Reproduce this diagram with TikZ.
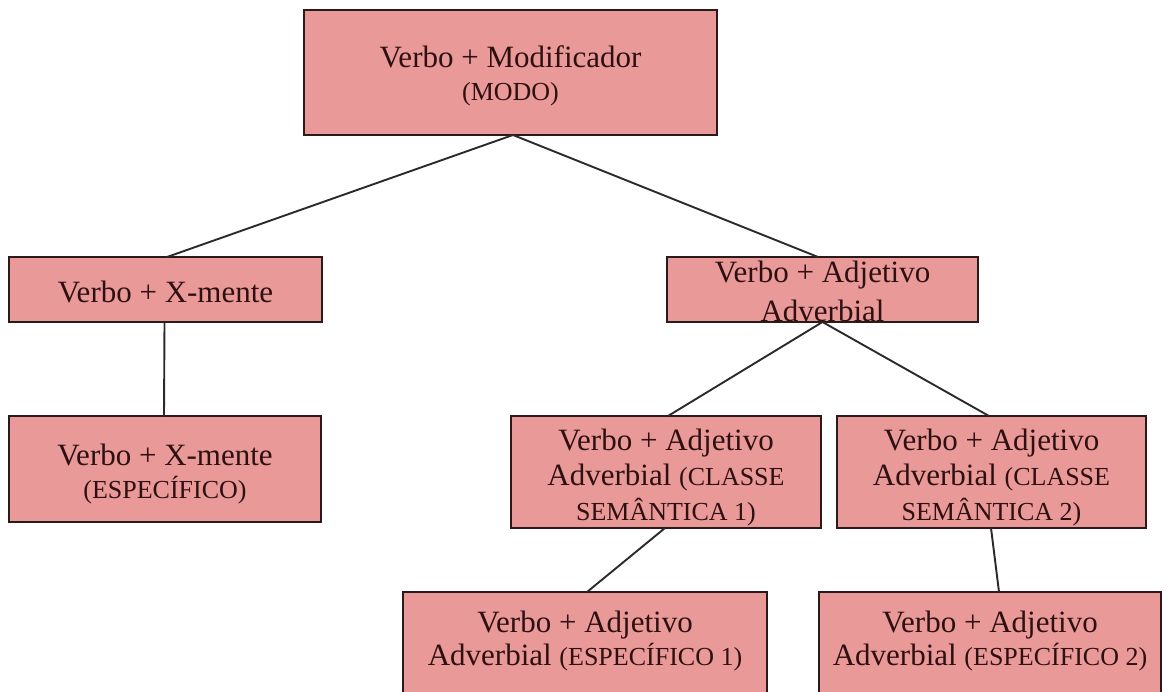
\documentclass[tikz,border=0pt]{standalone}
\usepackage{fontspec}
\setmainfont{Liberation Serif}
\definecolor{boxfill}{HTML}{EA9999}
\definecolor{boxline}{HTML}{2A1A1A}
\definecolor{ink}{HTML}{2E1010}
\definecolor{wirecol}{HTML}{2A2A2A}
\newcommand\minor[1]{{\fontsize{26}{34}\selectfont #1}}
\begin{document}
\begin{tikzpicture}[x=1pt,y=-1pt,
  box/.style={draw=boxline, fill=boxfill, line width=1.5pt, inner sep=0pt, outer sep=0pt},
  txt/.style={text=ink, align=center, anchor=base, inner sep=0pt,
              font=\fontsize{31}{33}\selectfont},
  wire/.style={draw=wirecol, line width=1.9pt}]
\useasboundingbox (0,0) rectangle (1172,691);
\clip (0,0) rectangle (1172,691);

% boxes
\node[box, minimum width=413pt, minimum height=125pt] (top) at (510.5,72.5) {};
\node[box, minimum width=313pt, minimum height=65pt]  (xm)  at (165.5,289.5) {};
\node[box, minimum width=311pt, minimum height=65pt]  (adj) at (822.5,289.5) {};
\node[box, minimum width=312pt, minimum height=106pt] (xme) at (165,469) {};
\node[box, minimum width=310pt, minimum height=112pt] (cs1) at (666,472) {};
\node[box, minimum width=309pt, minimum height=112pt] (cs2) at (991.5,472) {};
\node[box, minimum width=364pt, minimum height=128pt] (es1) at (585,656) {};
\node[box, minimum width=342pt, minimum height=128pt] (es2) at (990,656) {};

% labels (anchored at the baseline of their last line)
\node[txt] (topT) at (510.5,100) {Verbo + Modificador\\\minor{(MODO)}};
\node[txt] (xmT)  at (165.5,302) {Verbo + X-mente};
\node[txt, font=\fontsize{31}{39}\selectfont] (adjT) at (822.5,321) {Verbo + Adjetivo\\Adverbial};
\node[txt] (xmeT) at (165,498) {Verbo + X-mente\\\minor{(ESPECÍFICO)}};
\node[txt, font=\fontsize{31}{35}\selectfont] (cs1T) at (666,520) {Verbo + Adjetivo\\Adverbial \minor{(CLASSE}\\\minor{SEMÂNTICA 1)}};
\node[txt, font=\fontsize{31}{35}\selectfont] (cs2T) at (991.5,520) {Verbo + Adjetivo\\Adverbial \minor{(CLASSE}\\\minor{SEMÂNTICA 2)}};
\node[txt] (es1T) at (585,665) {Verbo + Adjetivo\\Adverbial \minor{(ESPECÍFICO 1)}};
\node[txt] (es2T) at (990,665) {Verbo + Adjetivo\\Adverbial \minor{(ESPECÍFICO 2)}};

% connectors
\draw[wire] ([xshift=2.5pt]top.south) -- ([xshift=1.5pt]xm.north);
\draw[wire] ([xshift=2.5pt]top.south) -- ([xshift=-4.5pt]adj.north);
\draw[wire] ([xshift=-1pt]xm.south) -- ([xshift=-1pt]xme.north);
\draw[wire] (adj.south) -- ([xshift=2pt]cs1.north);
\draw[wire] (adj.south) -- ([xshift=-2.5pt]cs2.north);
\draw[wire] ([xshift=-1pt]cs1.south) -- ([xshift=2pt]es1.north);
\draw[wire] ([xshift=-0.5pt]cs2.south) -- ([xshift=9pt]es2.north);
\end{tikzpicture}
\end{document}
